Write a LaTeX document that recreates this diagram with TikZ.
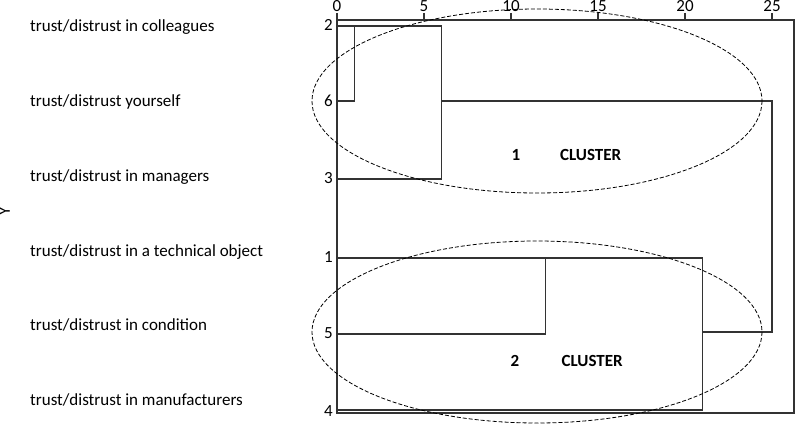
\documentclass[tikz,border=0pt]{standalone}
\usepackage{fontspec}
\setmainfont{Carlito}
\begin{document}
\begin{tikzpicture}[x=1pt,y=-1pt,
  txt/.style={inner sep=0pt,font=\fontsize{17}{20}\selectfont},
  lbl/.style={txt,anchor=base west},
  num/.style={txt,anchor=base east},
  tick/.style={txt,anchor=base},
  clab/.style={txt,anchor=base west,font=\fontsize{17}{20}\selectfont\bfseries},
  dline/.style={line width=1.1pt,black!80},
  ell/.style={line width=0.8pt,dash pattern=on 4pt off 2pt}]
\useasboundingbox (0,0) rectangle (795,425);
% side label (partly cut)
\node[txt,rotate=90] (ylab) at (4.5,211) {Y};
% item labels
\node[lbl] (l2) at (30,31.5) {trust/distrust in colleagues};
\node[lbl] (l6) at (30,106.5) {trust/distrust yourself};
\node[lbl] (l3) at (30,181.7) {trust/distrust in managers};
\node[lbl] (l1) at (30,256) {trust/distrust in a technical object};
\node[lbl] (l5) at (30,330.7) {trust/distrust in condition};
\node[lbl] (l4) at (30,405) {trust/distrust in manufacturers};
% case numbers
\node[num] (n2) at (333,30.7) {2};
\node[num] (n6) at (333,106.7) {6};
\node[num] (n3) at (333,183.3) {3};
\node[num] (n1) at (333,262.3) {1};
\node[num] (n5) at (333,338.3) {5};
\node[num] (n4) at (333,416.7) {4};
% axis
\foreach \v in {0,5,...,25}{
  \node[tick] (t\v) at ({337+17.4*\v},11.8) {\v};
  \draw[dline] ({337+17.4*\v},13) -- ({337+17.4*\v},20);
}
\draw[dline] (337,20) -- (794,20) -- (794,413) -- (337,413) -- cycle;
% coordinates
\coordinate (a2) at (337,26);   \coordinate (a6) at (337,101);
\coordinate (a3) at (337,179);  \coordinate (a1) at (337,258);
\coordinate (a5) at (337,334);  \coordinate (a4) at (337,410);
\coordinate (j26) at (354.4,26);
\coordinate (j263) at (441.4,26);
\coordinate (j15) at (545.8,258);
\coordinate (j154) at (702.4,258);
\coordinate (jall) at (772,101);
% dendrogram
\draw[dline] (a6) -- (a6 -| j26) -- (j26);
\draw[dline] (a2) -- (j263) -- (a3 -| j263) -- (a3);
\draw[dline] (a6 -| j263) -- (jall) -- (jall |- 0,332) -- (j154 |- 0,332);
\draw[dline] (a5) -- (a5 -| j15) -- (j15);
\draw[dline] (a1) -- (j154) -- (a4 -| j154) -- (a4);
% clusters
\draw[ell] (537,101) ellipse [x radius=225, y radius=92];
\draw[ell] (537,332) ellipse [x radius=225, y radius=91];
\node[txt,anchor=base] (c1n) at (516,160.5) {\bfseries 1};
\node[clab] (c1) at (560,160.5) {CLUSTER};
\node[txt,anchor=base] (c2n) at (515,366.5) {\bfseries 2};
\node[clab] (c2) at (561.5,366.5) {CLUSTER};
\end{tikzpicture}
\end{document}
